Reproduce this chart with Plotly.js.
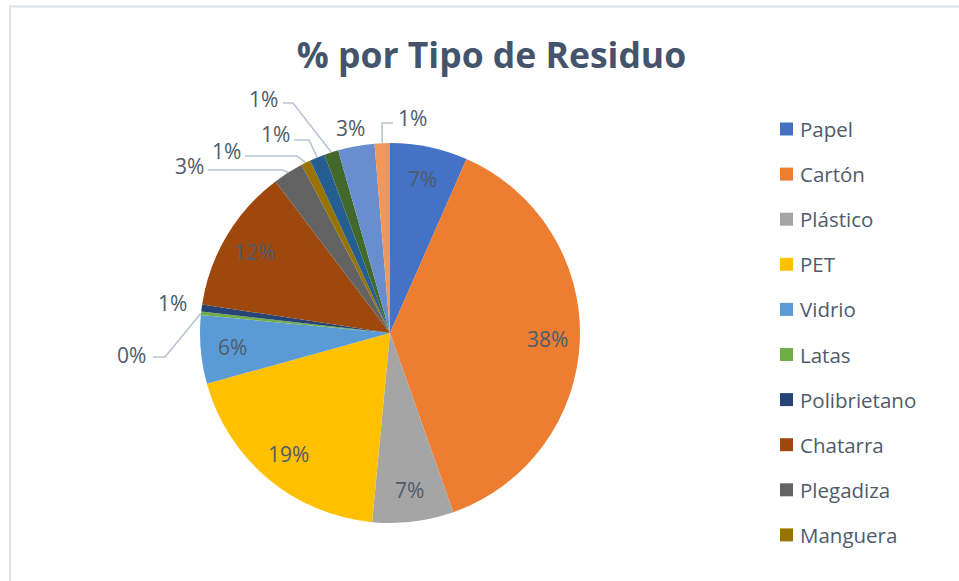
<!DOCTYPE html>
<html><head><meta charset="utf-8">
<script src="https://cdn.plot.ly/plotly-3.0.1.min.js"></script>
<style>html,body{margin:0;padding:0;background:#fff}#chart{width:959px;height:581px}</style>
</head><body><div id="chart"></div>
<script>
// ---- data ----
const categories = ['Papel','Cartón','Plástico','PET','Vidrio','Latas','Polibrietano','Chatarra','Plegadiza','Manguera','Unicel','Madera','Textil','Otros'];
const values = [6.6, 38.0, 6.9, 19.2, 5.8, 0.3, 0.6, 12.3, 2.6, 0.8, 1.3, 1.2, 3.1, 1.3];
const colors = ['#4472C4','#ED7D31','#A5A5A5','#FFC000','#5B9BD5','#70AD47','#264478','#9E480E','#636363','#997300','#255E91','#43682B','#698ED0','#F1975A'];
const legendCount = 10; // legend shows only the first 10 entries
const titleText = '% por Tipo de Residuo';

// ---- layout helpers (pixels) ----
const W = 959, H = 581;
const pie = {left: 200, right: 580, top: 143, bottom: 523};
const outside = {
  5:  {x:131, y:355, lx:153, ly:357, ex:165},
  6:  {x:172, y:303},
  8:  {x:189, y:166, lx:208, ly:170, ex:283},
  9:  {x:226, y:151, lx:245, ly:156, ex:297},
  10: {x:275, y:134, lx:294, ly:140, ex:309},
  11: {x:263, y:99,  lx:283, ly:103, ex:293},
  12: {x:350, y:128},
  13: {x:412, y:118, lx:393, ly:123, ex:382}
};
const px = v => v / W;
const py = v => 1 - v / H;
const textColor = '#4F5B6B';
const fontFam = '"Open Sans", "Noto Sans", sans-serif';
const labelSize = 21;

const cx = (pie.left + pie.right) / 2, cy = (pie.top + pie.bottom) / 2;
const R = Math.min(pie.right - pie.left, pie.bottom - pie.top) / 2;
const total = values.reduce((a, b) => a + b, 0);

const annotations = [];
const shapes = [];
let cum = 0;
values.forEach((v, i) => {
  const mid = (cum + v / 2) / total * 2 * Math.PI;
  cum += v;
  const pct = Math.round(v / total * 100) + '%';
  const o = outside[i];
  if (o) {
    annotations.push({x: px(o.x), y: py(o.y), xref:'paper', yref:'paper', text: pct, showarrow:false,
      xanchor:'center', yanchor:'middle', font:{family:fontFam, size:labelSize, color:textColor}});
    if (o.lx !== undefined) {
      const ex = cx + R * Math.sin(mid), ey = cy - R * Math.cos(mid);
      shapes.push({type:'path', xref:'paper', yref:'paper',
        path: `M ${px(o.lx)} ${py(o.ly)} L ${px(o.ex)} ${py(o.ly)} L ${px(ex)} ${py(ey)}`,
        line:{color:'#B8C4D3', width:1.6}});
    }
  } else {
    const r = 0.83 * R;
    annotations.push({x: px(cx + r * Math.sin(mid)), y: py(cy - r * Math.cos(mid)), xref:'paper', yref:'paper',
      text: pct, showarrow:false, xanchor:'center', yanchor:'middle',
      font:{family:fontFam, size:labelSize, color:textColor}});
  }
});

// legend (first 10 entries)
for (let i = 0; i < legendCount; i++) {
  const yc = 129 + i * 45.1;
  shapes.push({type:'rect', xref:'paper', yref:'paper', x0:px(780), x1:px(793), y0:py(yc+6.5), y1:py(yc-6.5),
    fillcolor: colors[i], line:{width:0}});
  annotations.push({x:px(798), y:py(yc), xref:'paper', yref:'paper', text: categories[i], showarrow:false,
    xanchor:'left', yanchor:'middle', font:{family:fontFam, size:20.5, color:textColor}});
}

// chart border
shapes.push({type:'rect', xref:'paper', yref:'paper', x0:px(10), x1:1.02, y0:-0.02, y1:py(6.5),
  line:{color:'#DCE1EA', width:2}, fillcolor:'rgba(0,0,0,0)', layer:'below'});

const data = [{
  type:'pie', labels: categories, values: values, sort:false, direction:'clockwise', rotation:0,
  marker:{colors: colors, line:{width:0}}, textinfo:'none', hoverinfo:'label+percent',
  domain:{x:[px(pie.left), px(pie.right)], y:[py(pie.bottom), py(pie.top)]}, showlegend:false
}];

const layout = {
  width: W, height: H, margin:{l:0, r:0, t:0, b:0}, paper_bgcolor:'#fff', showlegend:false,
  title:{text: '<b>' + titleText + '</b>', x: 491.5 / W, xref:'container', xanchor:'center',
    y: 1 - 56 / H, yref:'container', yanchor:'middle', font:{family:fontFam, size:35.5, color:'#44546A'}},
  annotations, shapes
};
Plotly.newPlot('chart', data, layout, {displayModeBar:false, staticPlot:true});
</script></body></html>
